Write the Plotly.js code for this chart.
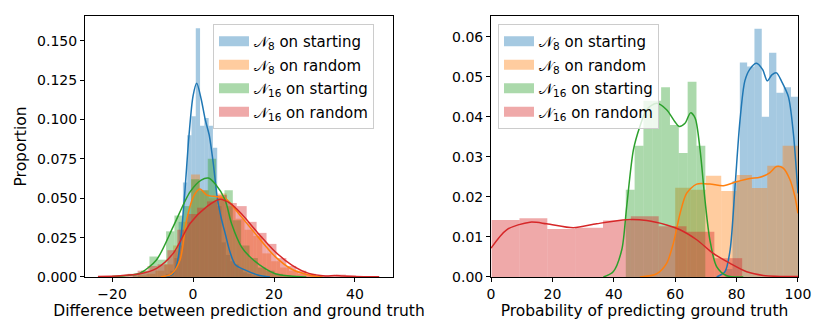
<!DOCTYPE html>
<html>
<head>
<meta charset="utf-8">
<script src="https://cdn.plot.ly/plotly-3.0.1.min.js"></script>
<style>
  html, body { margin: 0; padding: 0; background: #fff; }
  #chart { width: 830px; height: 332px; }
</style>
</head>
<body>
<div id="chart"></div>
<script>
// Series names (same order in both panels)
const seriesNames = ['𝒩<sub>8</sub> on starting', '𝒩<sub>8</sub> on random',
                     '𝒩<sub>16</sub> on starting', '𝒩<sub>16</sub> on random'];

// --- Left panel: difference between prediction and ground truth ---
// histogram bins: first edge, bin size, densities
const diffBinStart = [-6.75, -13.7, -14.9, -23.5];
const diffBinSize = [1.06, 2.2, 2.06, 2.45];
const diffN8Start = [0.002, 0.004, 0.012, 0.035, 0.060, 0.090, 0.102, 0.158, 0.096, 0.101, 0.096,
                     0.082, 0.045, 0.022, 0.014, 0.010, 0.008, 0.005, 0.003, 0.002, 0.001, 0.001];
const diffN8Random = [0.001, 0.002, 0.004, 0.008, 0.020, 0.035, 0.065, 0.055, 0.050, 0.053,
                      0.045, 0.037, 0.030, 0.026, 0.015, 0.010, 0.006, 0.004, 0.002, 0.001];
const diffN16Start = [0.002, 0.004, 0.013, 0.011, 0.029, 0.039, 0.045, 0.062, 0.055, 0.075,
                      0.050, 0.055, 0.036, 0.020, 0.012, 0.006, 0.004, 0.002, 0.001];
const diffN16Random = [0.0005, 0.0005, 0.001, 0.002, 0.004, 0.007, 0.008, 0.017, 0.030, 0.040,
                       0.044, 0.048, 0.052, 0.047, 0.045, 0.035, 0.028, 0.021, 0.012, 0.007,
                       0.004, 0.002, 0.001, 0.001, 0.0015, 0.001, 0.0005];

// kde curves
const diffKdeN8StartX = [-7, -5, -4, -3, -2, -1, 0, 0.9, 2, 3, 4, 5, 6, 7, 8, 9, 10.4, 12.8, 16, 19];
const diffKdeN8StartY = [0, 0.002, 0.008, 0.025, 0.055, 0.090, 0.115, 0.123, 0.113, 0.100, 0.090,
                         0.072, 0.050, 0.037, 0.027, 0.017, 0.008, 0.0045, 0.0013, 0];
const diffKdeN8RandomX = [-8, -5.3, -3.2, -1.6, 0.1, 1.7, 3.4, 5.85, 7.9, 12, 16, 20.3, 24.4, 28.6, 32];
const diffKdeN8RandomY = [0, 0.002, 0.011, 0.036, 0.051, 0.0558, 0.052, 0.051, 0.050, 0.038,
                          0.0256, 0.0129, 0.0049, 0.0013, 0];
const diffKdeN16StartX = [-20, -16.5, -13.1, -9, -4.9, -0.74, 2, 3.8, 5.5, 7.9, 9.5, 12, 14.5, 17.8, 20.3, 24, 28];
const diffKdeN16StartY = [0.0003, 0.001, 0.0024, 0.011, 0.032, 0.054, 0.0615, 0.0628, 0.059, 0.049,
                          0.034, 0.019, 0.0117, 0.0053, 0.0021, 0.0006, 0];
const diffKdeN16RandomX = [-23.5, -18, -13.1, -9, -4.9, -0.74, 3.4, 6.7, 9, 12, 16, 20.3, 24.4, 28.6,
                           32.7, 35, 37, 40, 46];
const diffKdeN16RandomY = [0.0003, 0.0008, 0.002, 0.0055, 0.015, 0.034, 0.0447, 0.0494, 0.047, 0.040,
                           0.028, 0.016, 0.0076, 0.0023, 0.0007, 0.0009, 0.0006, 0.0003, 0.0001];

// --- Right panel: probability of predicting ground truth ---
const probBinStart = [76.3, 60, 43.9, 0.2];
const probBinSize = [2.38, 5, 2.88, 9.07];
const probN8Start = [0.002, 0.024, 0.0536, 0.0526, 0.062, 0.040, 0.056, 0.046, 0.0474, 0.045];
const probN8Random = [0.0223, 0.0218, 0.0253, 0.0215, 0.0255, 0.0222, 0.0278, 0.0328];
const probN16Start = [0.0218, 0.0328, 0.044, 0.044, 0.0474, 0.038, 0.031, 0.0488, 0.0328];
const probN16Random = [0.01425, 0.0147, 0.012, 0.0123, 0.0141, 0.0152, 0.0127, 0.0113, 0.0047];

const probKdeN8StartX = [73.5, 76.2, 77.9, 79.5, 81.1, 82.7, 84.4, 86.5, 88.5, 90, 91.5, 93, 94.7, 96.9, 98.5, 100];
const probKdeN8StartY = [0, 0.0013, 0.0068, 0.0226, 0.039, 0.049, 0.052, 0.0534, 0.0518, 0.049, 0.0505,
                         0.051, 0.0488, 0.045, 0.0359, 0.0209];
const probKdeN8RandomX = [48.5, 54, 57.2, 59.4, 61.6, 63.7, 67, 71.3, 75.7, 80, 84.4, 87.6, 90.9, 93, 95.2, 97.4, 99, 100];
const probKdeN8RandomY = [0, 0.0008, 0.0034, 0.0084, 0.0159, 0.0209, 0.0232, 0.0232, 0.0228, 0.0238,
                          0.0246, 0.0249, 0.0261, 0.0276, 0.0272, 0.0243, 0.0201, 0.0159];
const probKdeN16StartX = [36.6, 39.8, 42.6, 44.2, 46.4, 48.5, 50.7, 54, 57.2, 59.9, 61.3, 63.2, 65, 66.5,
                          68.1, 69.7, 71.3, 73.5, 76.8, 82.2];
const probKdeN16StartY = [0, 0.0013, 0.0068, 0.0176, 0.0318, 0.0376, 0.0418, 0.0434, 0.0418, 0.0388,
                          0.0376, 0.0384, 0.041, 0.0397, 0.0318, 0.0193, 0.0093, 0.0026, 0.0003, 0];
const probKdeN16RandomX = [0, 5.1, 12.7, 18.1, 26.8, 34.4, 44.2, 50.7, 57.2, 61.6, 67, 72.4, 77.9, 83.3, 88.7, 100];
const probKdeN16RandomY = [0.0072, 0.0118, 0.0137, 0.0133, 0.0123, 0.0133, 0.0143, 0.0141, 0.013,
                           0.0118, 0.0093, 0.0059, 0.0034, 0.0013, 0.0004, 0.0001];

const colors = ['#1f77b4', '#ff7f0e', '#2ca02c', '#d62728'];

// bars of a density histogram, centres taken from the bin edges
function histTrace(heights, start, size, color, xa, ya) {
    return {
        type: 'bar',
        x: heights.map((_, i) => start + (i + 0.5) * size),
        y: heights,
        width: size,
        marker: { color: color, opacity: 0.4, line: { width: 0 } },
        showlegend: false,
        hoverinfo: 'skip',
        xaxis: xa, yaxis: ya
    };
}

function kdeTrace(xs, ys, color, xa, ya) {
    return {
        type: 'scatter', mode: 'lines',
        x: xs, y: ys,
        line: { color: color, width: 1.5, shape: 'spline', smoothing: 0.8 },
        showlegend: false,
        hoverinfo: 'skip',
        xaxis: xa, yaxis: ya
    };
}

// legend-only patch entries
function legendTrace(name, color, legendId, group, xa, ya) {
    return {
        type: 'scatter', mode: 'lines',
        x: [null], y: [null],
        name: name,
        line: { color: color, width: 10 },
        opacity: 0.4,
        legend: legendId,
        legendgroup: legendId + group,
        xaxis: xa, yaxis: ya
    };
}

const diffHists = [diffN8Start, diffN8Random, diffN16Start, diffN16Random];
const diffKdes = [[diffKdeN8StartX, diffKdeN8StartY], [diffKdeN8RandomX, diffKdeN8RandomY],
                  [diffKdeN16StartX, diffKdeN16StartY], [diffKdeN16RandomX, diffKdeN16RandomY]];
const probHists = [probN8Start, probN8Random, probN16Start, probN16Random];
const probKdes = [[probKdeN8StartX, probKdeN8StartY], [probKdeN8RandomX, probKdeN8RandomY],
                  [probKdeN16StartX, probKdeN16StartY], [probKdeN16RandomX, probKdeN16RandomY]];

const data = [];
for (let i = 0; i < 4; i++) {
    data.push(histTrace(diffHists[i], diffBinStart[i], diffBinSize[i], colors[i], 'x', 'y'));
    data.push(kdeTrace(diffKdes[i][0], diffKdes[i][1], colors[i], 'x', 'y'));
}
for (let i = 0; i < 4; i++) {
    data.push(histTrace(probHists[i], probBinStart[i], probBinSize[i], colors[i], 'x2', 'y2'));
    data.push(kdeTrace(probKdes[i][0], probKdes[i][1], colors[i], 'x2', 'y2'));
}
for (let i = 0; i < 4; i++) {
    data.push(legendTrace(seriesNames[i], colors[i], 'legend', i, 'x', 'y'));
    data.push(legendTrace(seriesNames[i], colors[i], 'legend2', i, 'x2', 'y2'));
}

const axisStyle = {
    showline: true, mirror: true, linecolor: '#000', linewidth: 1,
    ticks: 'outside', ticklen: 4, tickcolor: '#000', tickwidth: 1,
    showgrid: false, zeroline: false,
    tickfont: { size: 14, color: '#000' },
    automargin: false
};

const legendStyle = {
    bgcolor: 'rgba(255,255,255,0.8)', bordercolor: '#cccccc', borderwidth: 1,
    font: { size: 15, color: '#000' },
    xanchor: 'left', yanchor: 'top',
    tracegroupgap: 1, itemclick: false
};

const layout = {
    width: 830, height: 332,
    margin: { l: 0, r: 0, t: 0, b: 0 },
    paper_bgcolor: '#fff', plot_bgcolor: '#fff',
    font: { family: 'DejaVu Sans', color: '#000' },
    barmode: 'overlay',
    xaxis: Object.assign({}, axisStyle, {
        domain: [0.1024, 0.4735], range: [-26.7, 49.4], dtick: 20, tick0: 0,
        title: { text: 'Difference between prediction and ground truth', font: { size: 15.5 }, standoff: 4 }
    }),
    yaxis: Object.assign({}, axisStyle, {
        domain: [0.1657, 0.9518], range: [0, 0.1657], dtick: 0.025, tickformat: '.3f',
        title: { text: 'Proportion', font: { size: 15.5 }, standoff: 6 }
    }),
    xaxis2: Object.assign({}, axisStyle, {
        domain: [0.5916, 0.9614], range: [0, 100], dtick: 20, anchor: 'y2',
        title: { text: 'Probability of predicting ground truth', font: { size: 15.5 }, standoff: 4 }
    }),
    yaxis2: Object.assign({}, axisStyle, {
        domain: [0.1657, 0.9518], range: [0, 0.0652], dtick: 0.01, tickformat: '.2f', anchor: 'x2'
    }),
    legend: Object.assign({}, legendStyle, { x: 0.2566, y: 0.9277 }),
    legend2: Object.assign({}, legendStyle, { x: 0.6, y: 0.9277 })
};

Plotly.newPlot('chart', data, layout, { displayModeBar: false, staticPlot: true });
</script>
</body>
</html>
